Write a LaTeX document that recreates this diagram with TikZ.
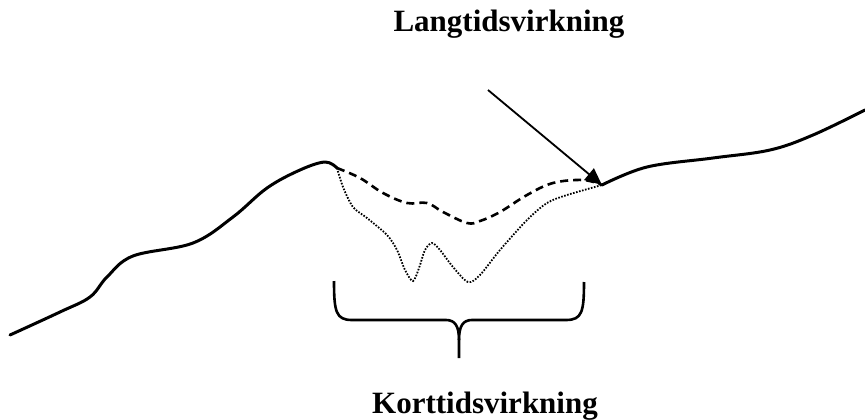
\documentclass[tikz,border=0pt]{standalone}
\usepackage{fontspec}
\setmainfont{Liberation Serif}
\usepackage{tikz}
\usetikzlibrary{arrows.meta}

\begin{document}
\begin{tikzpicture}[x=1pt,y=-1pt,
  ground/.style={line width=3pt,line cap=round,line join=round},
  longterm/.style={line width=2.6pt,dash pattern=on 8pt off 5pt},
  shortterm/.style={line width=1.8pt,dash pattern=on 1.6pt off 1.5pt},
  lbl/.style={font=\fontsize{31}{36}\selectfont\bfseries,anchor=base,inner sep=0pt}]
\useasboundingbox (0,0) rectangle (865,420);
\coordinate (peak) at (337,168);
\coordinate (join) at (602,185);
\coordinate (from) at (488,90);
\coordinate (cusp) at (459,358);
\node[lbl] (lang) at (509,32) {Langtidsvirkning};
\node[lbl] (kort) at (485,413) {Korttidsvirkning};
\draw[ground] plot[smooth,tension=0.6] coordinates {(10,335) (60,312) (90,297) (107,277) (133,256) (193,243) (233,217) (267,188) (300,170) (325,162) (337,168)};
\draw[ground] plot[smooth,tension=0.6] coordinates {(602,185) (647,167) (713,158) (770,150) (813,135) (865,110)};
\draw[longterm] plot[smooth,tension=0.6] coordinates {(peak) (360,178) (383,193) (407,203) (427,203) (443,212) (467,223) (480,221) (500,212) (527,195) (553,183) (583,180) (join)};
\draw[shortterm] plot[smooth,tension=0.5] coordinates {(peak) (343,187) (353,207) (367,218) (387,235) (397,250) (405,270) (413,281) (419,268) (425,250) (432,243) (440,250) (453,267) (468,282) (480,275) (500,250) (527,220) (547,203) (567,195) (join)};
\draw[line width=1.8pt,-{Triangle[length=17pt,width=15pt]}] (from) -- (join);
\draw[line width=2.6pt] (334,281) .. controls (334,312) and (336,320) .. (352,320) -- (446,320) .. controls (455,320) and (459,326) .. (459,340) -- (cusp);
\draw[line width=2.6pt] (584,282) .. controls (584,312) and (582,320) .. (566,320) -- (472,320) .. controls (463,320) and (459,326) .. (459,340);
\end{tikzpicture}
\end{document}
